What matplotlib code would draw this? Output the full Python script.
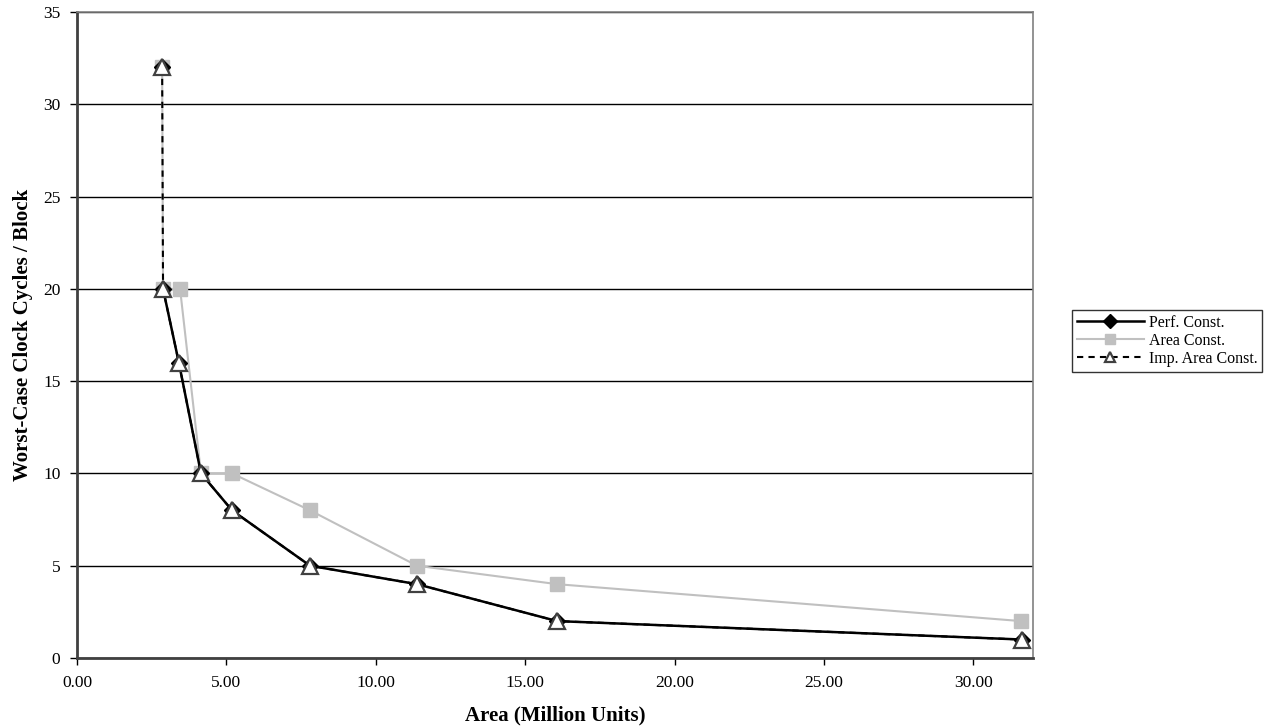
import matplotlib
matplotlib.use("Agg")
import matplotlib.pyplot as plt

# Data
perf_x = [2.85, 2.88, 3.41, 4.15, 5.19, 7.80, 11.38, 16.07, 31.64]
perf_y = [32, 20, 16, 10, 8, 5, 4, 2, 1]

area_x = [2.85, 2.88, 3.45, 4.15, 5.19, 7.80, 11.38, 16.07, 31.60]
area_y = [32, 20, 20, 10, 10, 8, 5, 4, 2]

imp_x = [2.85, 2.88, 3.41, 4.15, 5.19, 7.80, 11.38, 16.07, 31.64]
imp_y = [32, 20, 16, 10, 8, 5, 4, 2, 1]

x_ticks = [0, 5, 10, 15, 20, 25, 30]
y_ticks = [0, 5, 10, 15, 20, 25, 30, 35]

plt.rcParams['font.family'] = ['Liberation Serif', 'DejaVu Serif']

fig = plt.figure(figsize=(12.71, 7.27), dpi=100)
ax = fig.add_axes([77/1271, 69/727, (1033-77)/1271, (658-12)/727])

ax.plot(area_x, area_y, color='#c0c0c0', lw=1.5, marker='s', ms=10,
        mfc='#c0c0c0', mec='#c0c0c0', label='Area Const.', zorder=3)
# perf line: the 32 -> 20 jump only shows the dashed line in the original
ax.plot(perf_x[1:], perf_y[1:], color='black', lw=1.8, zorder=4)
ax.plot(perf_x, perf_y, color='black', lw=1.8, ls='none', marker='D', ms=8,
        mfc='black', mec='black', zorder=4)
ax.plot([], [], color='black', lw=1.8, marker='D', mfc='black', mec='black',
        label='Perf. Const.')
ax.plot(imp_x, imp_y, color='black', lw=1.5, ls=(0, (3, 2.5)), marker='^', ms=11,
        mfc='white', mec='#404040', mew=1.6, label='Imp. Area Const.', zorder=5)

ax.set_xlim(0, 32)
ax.set_ylim(0, 35)
ax.set_xticks(x_ticks)
ax.set_xticklabels(['%.2f' % v for v in x_ticks])
ax.set_yticks(y_ticks)
ax.yaxis.grid(True, color='black', lw=1)
ax.set_axisbelow(True)

for s in ['top', 'right']:
    ax.spines[s].set_color('#808080')
    ax.spines[s].set_linewidth(1.2)
for s in ['left', 'bottom']:
    ax.spines[s].set_color('#404040')
    ax.spines[s].set_linewidth(2)

ax.tick_params(axis='both', labelsize=12.5, direction='out', length=5, width=1, pad=7)

ax.set_xlabel('Area (Million Units)', fontsize=15, fontweight='bold')
ax.set_ylabel('Worst-Case Clock Cycles / Block', fontsize=15, fontweight='bold')
ax.xaxis.set_label_coords(0.5, -0.074)
ax.yaxis.set_label_coords(-0.046, 0.5)

handles, labels = ax.get_legend_handles_labels()
lookup = dict(zip(labels, handles))
order = ['Perf. Const.', 'Area Const.', 'Imp. Area Const.']
leg = fig.legend([lookup[k] for k in order], order,
                 loc='center left', bbox_to_anchor=(1072/1271, 1 - 341/727),
                 fontsize=11.5, frameon=True, fancybox=False, handlelength=4.2,
                 borderpad=0.3, labelspacing=0.12, handletextpad=0.3, borderaxespad=0)
leg.get_frame().set_edgecolor('black')
leg.get_frame().set_linewidth(1)
for h in leg.legend_handles:
    h.set_markersize(7)

fig.savefig('out.png', dpi=100)
